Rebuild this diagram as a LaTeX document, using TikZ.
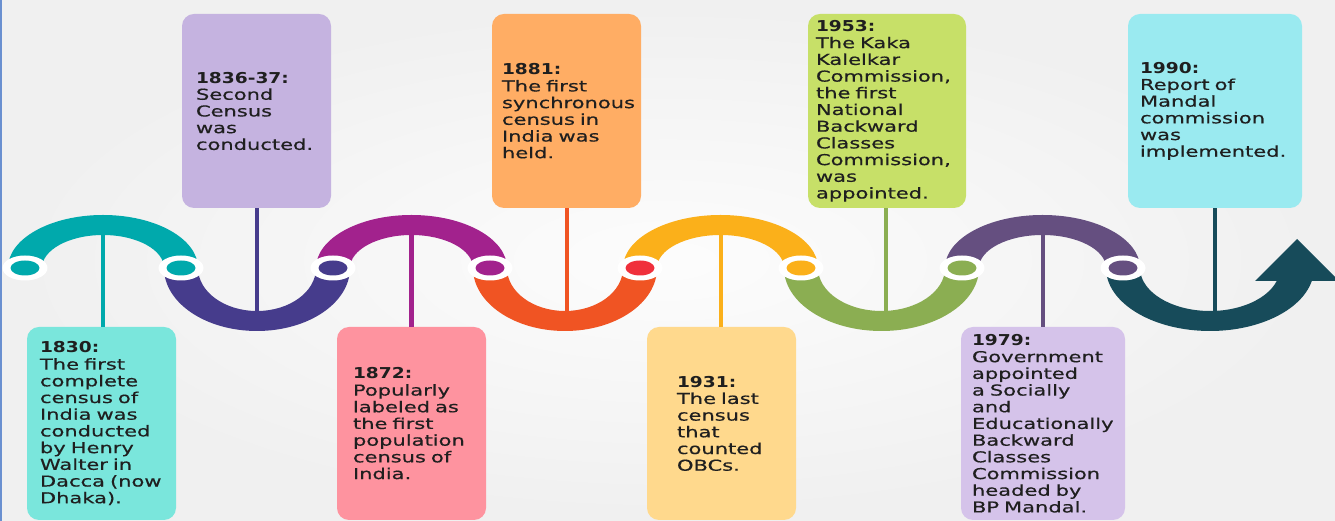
\documentclass[tikz,border=0pt]{standalone}
\usepackage{fontspec}
\newfontfamily\cardfont[FakeStretch=1.4, FakeBold=0.5]{DejaVu Sans}
\newfontfamily\yearfont[FakeStretch=1.24]{DejaVu Sans Bold}
\usetikzlibrary{positioning}
\definecolor{arcteal}{HTML}{00A9AC}
\definecolor{arcindigo}{HTML}{463C8C}
\definecolor{arcmagenta}{HTML}{A2228D}
\definecolor{arcorange}{HTML}{F05423}
\definecolor{dotred}{HTML}{F0303C}
\definecolor{arcyellow}{HTML}{FBB01A}
\definecolor{arcgreen}{HTML}{8BAE52}
\definecolor{arcplum}{HTML}{654F80}
\definecolor{arcdark}{HTML}{174B5A}
\definecolor{boxteal}{HTML}{7AE6DC}
\definecolor{boxlavender}{HTML}{C5B3E0}
\definecolor{boxpink}{HTML}{FE939F}
\definecolor{boxorange}{HTML}{FFAD64}
\definecolor{boxyellow}{HTML}{FFD98D}
\definecolor{boxlime}{HTML}{C7E068}
\definecolor{boxlilac}{HTML}{D5C3EA}
\definecolor{boxcyan}{HTML}{9AEAF0}
\definecolor{slideedge}{HTML}{6A90D0}

\begin{document}
\begin{tikzpicture}[x=1pt, y=1pt,
    card/.style={rounded corners=12pt, align=left, inner ysep=0pt, text=black!88,
        font=\cardfont\fontsize{15}{16.7}\selectfont},
    stem/.style={line width=4.5pt}]
    \useasboundingbox (0,0) rectangle (1335,521);
    \shade[inner color=gray!2, outer color=gray!12] (0,0) rectangle (1335,521);
    \fill[slideedge] (0,0) rectangle (2,521);

    \node[card, fill=boxteal, minimum width=149pt, minimum height=193pt, text width=123pt, inner xsep=13pt] (c1830) at (101.5,97.5)
        {{\yearfont 1830:}\\The first\\complete\\census of\\India was\\conducted\\by Henry\\Walter in\\Dacca (now\\Dhaka).};
    \node[card, fill=boxlavender, minimum width=149pt, minimum height=194pt, text width=121pt, inner xsep=14pt] (c1836) at (256.5,410)
        {{\yearfont 1836-37:}\\Second\\Census\\was\\conducted.};
    \node[card, fill=boxpink, minimum width=149pt, minimum height=193pt, text width=117pt, inner xsep=16pt] (c1872) at (411.5,97.5)
        {{\yearfont 1872:}\\Popularly\\labeled as\\the first\\population\\census of\\India.};
    \node[card, fill=boxorange, minimum width=149pt, minimum height=194pt, text width=129pt, inner xsep=10pt] (c1881) at (566.5,410)
        {{\yearfont 1881:}\\The first\\synchronous\\census in\\India was\\held.};
    \node[card, fill=boxyellow, minimum width=149pt, minimum height=193pt, text width=89pt, inner xsep=30pt] (c1931) at (721.5,97.5)
        {{\yearfont 1931:}\\The last\\census\\that\\counted\\OBCs.};
    \node[card, fill=boxlime, minimum width=158pt, minimum height=194pt, text width=142pt, inner xsep=8pt] (c1953) at (887,410)
        {{\yearfont 1953:}\\The Kaka\\Kalelkar\\Commission,\\the first\\National\\Backward\\Classes\\Commission,\\was\\appointed.};
    \node[card, fill=boxlilac, minimum width=164pt, minimum height=193pt, text width=142pt, inner xsep=11pt] (c1979) at (1043,97.5)
        {{\yearfont 1979:}\\Government\\appointed\\a Socially\\and\\Educationally\\Backward\\Classes\\Commission\\headed by\\BP Mandal.};
    \node[card, fill=boxcyan, minimum width=174pt, minimum height=194pt, text width=150pt, inner xsep=12pt] (c1990) at (1215,410)
        {{\yearfont 1990:}\\Report of\\Mandal\\commission\\was\\implemented.};

    \coordinate (a1830) at (103,290);
    \coordinate (a1836) at (257,206);
    \coordinate (a1872) at (411.5,290);
    \coordinate (a1881) at (567,206);
    \coordinate (a1931) at (721,290);
    \coordinate (a1953) at (886,206);
    \coordinate (a1979) at (1043,290);
    \coordinate (a1990) at (1215,206);

    \draw[stem, arcteal] (a1830) -- (a1830 |- c1830.north);
    \draw[stem, arcindigo] (a1836) -- (a1836 |- c1836.south);
    \draw[stem, arcmagenta] (a1872) -- (a1872 |- c1872.north);
    \draw[stem, arcorange] (a1881) -- (a1881 |- c1881.south);
    \draw[stem, arcyellow] (a1931) -- (a1931 |- c1931.north);
    \draw[stem, arcgreen] (a1953) -- (a1953 |- c1953.south);
    \draw[stem, arcplum] (a1979) -- (a1979 |- c1979.north);
    \draw[stem, arcdark] (a1990) -- (a1990 |- c1990.south);

    \foreach \a/\b/\col/\s in {25/181/arcteal/1, 181/333/arcindigo/-1, 333/490/arcmagenta/1,
        490/640/arcorange/-1, 640/801/arcyellow/1, 801/962/arcgreen/-1, 962/1123/arcplum/1} {
        \pgfmathsetmacro\ro{(\b-\a)/2+17}
        \pgfmathsetmacro\ri{(\b-\a)/2-17}
        \pgfmathsetmacro\yo{\s>0 ? 53 : 63}
        \pgfmathsetmacro\yi{\s>0 ? 33 : 43}
        \pgfmathsetmacro\e{180-180*\s}
        \fill[\col] (\a-17,253) arc[start angle=180, end angle=\e, x radius=\ro, y radius=\yo]
            -- (\b-17,253) arc[start angle=\e, end angle=180, x radius=\ri, y radius=\yi] -- cycle;
    }
    \fill[arcdark] (1106,253) arc[start angle=180, end angle=350, x radius=104, y radius=63]
        -- ({1210+70*cos(350)},{253+43*sin(350)}) arc[start angle=350, end angle=180, x radius=70, y radius=43] -- cycle;
    \fill[arcdark] (1255,240) -- (1297,282) -- (1339,240) -- cycle;

    \foreach \x/\col in {25/arcteal, 181/arcteal, 333/arcindigo, 490/arcmagenta,
        640/dotred, 801/arcyellow, 962/arcgreen, 1123/arcplum} {
        \fill[white] (\x,253) ellipse[x radius=22.5, y radius=12.5];
        \fill[\col] (\x,253) ellipse[x radius=14.5, y radius=7.5];
    }
\end{tikzpicture}
\end{document}
